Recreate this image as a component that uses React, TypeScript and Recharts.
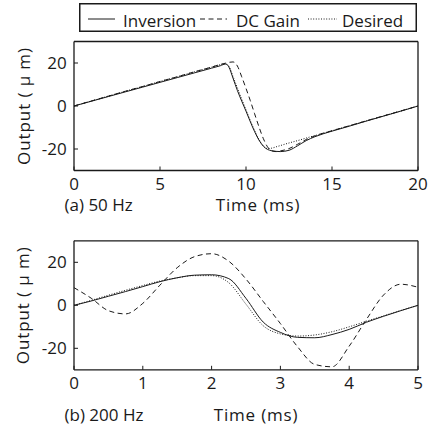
import React from 'react';
import { LineChart, Line, XAxis, YAxis, Legend, Customized } from 'recharts';

// (a) 50 Hz
const time50 = [0, 1, 2, 3, 4, 5, 6, 7, 8, 8.5, 8.8, 9, 9.25, 9.5, 9.75, 10, 10.25, 10.5, 10.75, 11, 11.25, 11.5, 11.75, 12, 12.5, 13, 13.5, 14, 15, 16, 17, 18, 19, 20];
const inversion50 = [0, 2.2, 4.4, 6.6, 8.8, 11.0, 13.2, 15.4, 17.6, 18.7, 19.5, 18.2, 12.8, 7.2, 2.3, -2.4, -7.3, -11.9, -15.8, -18.6, -20.2, -20.8, -21.1, -21.2, -20.6, -18.5, -16.1, -14.3, -11.7, -9.4, -7.0, -4.7, -2.4, 0];
const dcGain50 = [0, 2.3, 4.6, 6.9, 9.1, 11.4, 13.6, 15.9, 18.1, 19.3, 19.9, 20.3, 20.5, 18.6, 13.6, 8.2, 2.5, -3.6, -9.6, -15.0, -19.0, -20.9, -21.2, -20.9, -19.8, -17.8, -15.6, -13.9, -11.5, -9.2, -6.9, -4.6, -2.3, 0];
const desired50 = [0, 2.3, 4.6, 6.9, 9.1, 11.4, 13.6, 15.9, 18.1, 19.2, 19.7, 18.6, 13.6, 8.4, 3.2, -1.8, -6.8, -11.4, -15.5, -18.6, -19.8, -19.6, -19.0, -18.4, -17.2, -16.1, -14.9, -13.8, -11.5, -9.2, -6.9, -4.6, -2.3, 0];

// (b) 200 Hz
const time200 = [0, 0.25, 0.5, 0.75, 1, 1.25, 1.5, 1.75, 2, 2.25, 2.5, 2.75, 3, 3.25, 3.5, 3.75, 4, 4.25, 4.5, 4.75, 5];
const inversion200 = [0, 2.0, 4.2, 6.4, 8.7, 11.0, 12.8, 14.0, 14.2, 12.4, 3.2, -7.8, -12.6, -14.9, -15.1, -13.6, -11.2, -7.9, -5.1, -2.5, 0];
const dcGain200 = [8.2, 3.3, -2.5, -4.0, 0.9, 9.4, 17.5, 22.6, 24.0, 20.5, 12.2, 1.8, -8.5, -19.3, -27.5, -28.6, -19.0, -6.6, 4.8, 9.8, 8.4];
const desired200 = [0, 2.3, 4.7, 7.0, 9.2, 11.3, 12.8, 13.8, 13.8, 10.5, 0.5, -9.5, -13.3, -14.3, -13.8, -12.3, -10.0, -7.4, -4.9, -2.4, 0];

const xTicks50 = [0, 5, 10, 15, 20];
const xTicks200 = [0, 1, 2, 3, 4, 5];
const yTicks = [-20, 0, 20];
const legendNames = ['Inversion', 'DC Gain', 'Desired'];

const INK = '#1a1a1a';
const FONT = "'Open Sans', 'DejaVu Sans', sans-serif";
const DASH = '5 3.5';
const DOT = '1 1.6';

const rows = (t: number[], inv: number[], dc: number[], des: number[]) =>
  t.map((x, i) => ({ t: x, inversion: inv[i], dcGain: dc[i], desired: des[i] }));

function LegendBox() {
  return (
    <svg width={338} height={29} style={{ display: 'block', fontFamily: FONT }}>
      <rect x={0.75} y={0.75} width={336.5} height={27.5} fill="#fff" stroke={INK} strokeWidth={1.5} />
      <line x1={9} x2={36} y1={16} y2={16} stroke={INK} strokeWidth={1} />
      <text x={44} y={23.5} fontSize={17} fill={INK}>{legendNames[0]}</text>
      <line x1={121} x2={148} y1={16} y2={16} stroke={INK} strokeWidth={1} strokeDasharray={DASH} />
      <text x={157} y={23.5} fontSize={17} fill={INK}>{legendNames[1]}</text>
      <line x1={229} x2={258} y1={16} y2={16} stroke={INK} strokeWidth={1} strokeDasharray={DOT} />
      <text x={263} y={23.5} fontSize={17} fill={INK}>{legendNames[2]}</text>
    </svg>
  );
}

interface PanelProps {
  data: { t: number; inversion: number; dcGain: number; desired: number }[];
  xMax: number;
  xTicks: number[];
  pageTop: number;
  height: number;
  plotTop: number;
  plotBottom: number;
  caption: string;
  captionY: number;
  xLabelX: number;
  withLegend?: boolean;
}

function Panel({ data, xMax, xTicks, pageTop, height, plotTop, plotBottom, caption, captionY, xLabelX, withLegend }: PanelProps) {
  const axisLine = { stroke: INK, strokeWidth: 1.3 };
  const tickLine = { stroke: INK, strokeWidth: 1 };
  const tick = { fill: INK, fontSize: 17 };
  const midY = (plotTop + plotBottom) / 2;
  // axes are 1px thick boxes (recharts skips 0-sized axes), margins shrink to match
  return (
    <div style={{ position: 'absolute', left: 0, top: pageTop }}>
      <LineChart
        width={433}
        height={height}
        data={data}
        margin={{ top: plotTop - 1, right: 14, bottom: height - plotBottom - 1, left: 73 }}
      >
        <XAxis dataKey="t" type="number" domain={[0, xMax]} ticks={xTicks} interval={0} height={1}
          tickSize={-4} tickMargin={11} axisLine={axisLine} tickLine={tickLine} tick={tick} allowDataOverflow />
        <XAxis xAxisId="top" orientation="top" dataKey="t" type="number" domain={[0, xMax]} ticks={xTicks}
          interval={0} height={1} tickSize={-4} axisLine={axisLine} tickLine={tickLine} tick={false} allowDataOverflow />
        <YAxis type="number" domain={[-30, 30]} ticks={yTicks} interval={0} width={1}
          tickSize={-4} tickMargin={11.3} axisLine={axisLine} tickLine={tickLine} tick={tick} allowDataOverflow />
        <YAxis yAxisId="right" orientation="right" type="number" domain={[-30, 30]} ticks={yTicks} interval={0}
          width={1} tickSize={-4} axisLine={axisLine} tickLine={tickLine} tick={false} allowDataOverflow />
        <Line type="monotone" dataKey="dcGain" name="DC Gain" stroke={INK} strokeWidth={1}
          strokeDasharray={DASH} dot={false} isAnimationActive={false} />
        <Line type="monotone" dataKey="desired" name="Desired" stroke={INK} strokeWidth={1}
          strokeDasharray={DOT} dot={false} isAnimationActive={false} />
        <Line type="monotone" dataKey="inversion" name="Inversion" stroke={INK} strokeWidth={1}
          dot={false} isAnimationActive={false} />
        {withLegend && (
          <Legend verticalAlign="middle" align="center" content={() => <LegendBox />}
            wrapperStyle={{ top: 3, left: 79, width: 338, height: 29, lineHeight: 0 }} />
        )}
        <Customized
          component={() => (
            <g fontSize={17} fill={INK}>
              <text x={29.5} y={midY} textAnchor="middle" letterSpacing={0.9}
                transform={`rotate(-90 29.5 ${midY})`}>
                Output ( µ m)
              </text>
              <text x={64.5} y={captionY}>{caption}</text>
              <text x={xLabelX} y={captionY} textAnchor="middle" letterSpacing={0.8}>Time (ms)</text>
            </g>
          )}
        />
      </LineChart>
    </div>
  );
}

export default function App() {
  return (
    <div style={{ position: 'absolute', left: 0, top: 0, width: 433, height: 425, background: '#fff', fontFamily: FONT }}>
      <Panel data={rows(time50, inversion50, dcGain50, desired50)} xMax={20} xTicks={xTicks50}
        pageTop={0} height={215} plotTop={41.5} plotBottom={170.5}
        caption="(a) 50 Hz" captionY={211.3} xLabelX={258} withLegend />
      <Panel data={rows(time200, inversion200, dcGain200, desired200)} xMax={5} xTicks={xTicks200}
        pageTop={220} height={205} plotTop={20.8} plotBottom={149.8}
        caption="(b) 200 Hz" captionY={200.8} xLabelX={256} />
    </div>
  );
}
